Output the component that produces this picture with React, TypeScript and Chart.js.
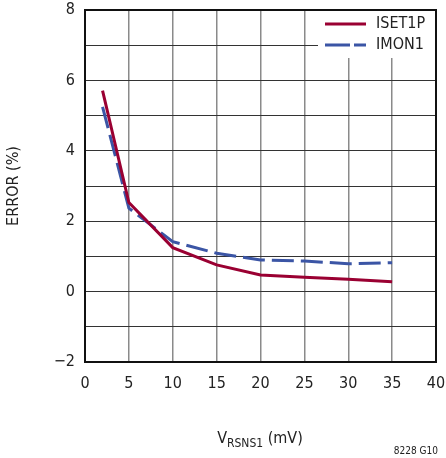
import React, { useEffect, useRef } from "react";
import { Chart, registerables } from "chart.js";

Chart.register(...registerables);

const xValues = [2, 5, 10, 15, 20, 25, 30, 35];
const isetValues = [5.71, 2.53, 1.25, 0.76, 0.47, 0.41, 0.35, 0.28];
const imonValues = [5.25, 2.37, 1.42, 1.09, 0.9, 0.87, 0.79, 0.82];
const seriesNames = ["ISET1P", "IMON1"];
const yTickLabels: Record<number, string> = { [-2]: "\u22122", 0: "0", 2: "2", 4: "4", 6: "6", 8: "8" };
const yTitle = "ERROR (%)";
const xTitleMain = "V";
const xTitleSub = "RSNS1";
const xTitleTail = " (mV)";
const figureId = "8228 G10";

const FONT = "'Liberation Sans Narrow', 'DejaVu Sans Condensed', 'Liberation Sans', Arial, sans-serif";
const RED = "#9a0032";
const BLUE = "#3b55a5";

const overlayPlugin = {
  id: "overlay",
  afterDatasetsDraw(chart: any) {
    const ctx = chart.ctx;
    const a = chart.chartArea;
    ctx.save();
    // legend box
    const lx = 318;
    ctx.fillStyle = "#fff";
    ctx.fillRect(lx, a.top + 1, a.right - lx - 1, 47);
    ctx.lineWidth = 3;
    ctx.strokeStyle = RED;
    ctx.beginPath();
    ctx.moveTo(325, 24);
    ctx.lineTo(366, 24);
    ctx.stroke();
    ctx.strokeStyle = BLUE;
    ctx.setLineDash([25, 4]);
    ctx.beginPath();
    ctx.moveTo(325, 45);
    ctx.lineTo(366, 45);
    ctx.stroke();
    ctx.setLineDash([]);
    ctx.fillStyle = "#222";
    ctx.font = `16px ${FONT}`;
    ctx.textBaseline = "middle";
    ctx.textAlign = "left";
    ctx.fillText(seriesNames[0], 376, 24);
    ctx.fillText(seriesNames[1], 376, 45);
    // frame
    ctx.strokeStyle = "#111";
    ctx.lineWidth = 2;
    ctx.strokeRect(a.left, a.top, a.right - a.left, a.bottom - a.top);
    // x title with subscript
    ctx.textBaseline = "alphabetic";
    ctx.font = `16px ${FONT}`;
    const w1 = ctx.measureText(xTitleMain).width;
    ctx.font = `12px ${FONT}`;
    const w2 = ctx.measureText(xTitleSub).width;
    ctx.font = `16px ${FONT}`;
    const w3 = ctx.measureText(xTitleTail).width;
    let x = 260 - (w1 + w2 + w3) / 2;
    ctx.fillText(xTitleMain, x, 443);
    x += w1;
    ctx.font = `12px ${FONT}`;
    ctx.fillText(xTitleSub, x, 447);
    x += w2;
    ctx.font = `16px ${FONT}`;
    ctx.fillText(xTitleTail, x, 443);
    // figure id
    ctx.font = `10px ${FONT}`;
    ctx.textAlign = "right";
    ctx.fillText(figureId, 438, 454);
    // y title
    ctx.font = `16px ${FONT}`;
    ctx.translate(14, (a.top + a.bottom) / 2);
    ctx.rotate(-Math.PI / 2);
    ctx.textAlign = "center";
    ctx.textBaseline = "middle";
    ctx.fillText(yTitle, 0, 0);
    ctx.restore();
  },
};

export default function App() {
  const ref = useRef<HTMLCanvasElement>(null);
  useEffect(() => {
    document.body.style.margin = "0";
    const chart = new Chart(ref.current as HTMLCanvasElement, {
      type: "line",
      data: {
        datasets: [
          {
            label: seriesNames[0],
            data: xValues.map((x, i) => ({ x, y: isetValues[i] })),
            borderColor: RED,
            borderWidth: 3,
            pointRadius: 0,
            tension: 0,
          },
          {
            label: seriesNames[1],
            data: xValues.map((x, i) => ({ x, y: imonValues[i] })),
            borderColor: BLUE,
            borderWidth: 3,
            borderDash: [22, 7],
            pointRadius: 0,
            tension: 0,
          },
        ],
      },
      options: {
        animation: false,
        responsive: false,
        devicePixelRatio: 1,
        layout: { padding: { top: 10, right: 10, left: 0, bottom: 0 } },
        plugins: { legend: { display: false }, tooltip: { enabled: false } },
        scales: {
          x: {
            type: "linear",
            min: 0,
            max: 40,
            ticks: {
              stepSize: 5,
              color: "#222",
              font: { family: FONT, size: 16 },
              padding: 12,
              maxRotation: 0,
            },
            grid: { color: "#8a8a8a", lineWidth: 1.5, drawTicks: false },
            border: { display: false },
            afterFit: (s: any) => {
              s.height = 96;
              s.paddingLeft = 0;
              s.paddingRight = 0;
            },
          },
          y: {
            min: -2,
            max: 8,
            ticks: {
              stepSize: 1,
              color: "#222",
              font: { family: FONT, size: 16 },
              padding: 10,
              callback: (v: any) => (yTickLabels[v as number] ?? ""),
            },
            grid: { color: "#333", lineWidth: 1, drawTicks: false },
            border: { display: false },
            afterFit: (s: any) => {
              s.width = 85;
              s.paddingTop = 0;
              s.paddingBottom = 0;
            },
          },
        },
      },
      plugins: [overlayPlugin],
    });
    return () => chart.destroy();
  }, []);
  return <canvas ref={ref} width={446} height={458} style={{ display: "block" }} />;
}
